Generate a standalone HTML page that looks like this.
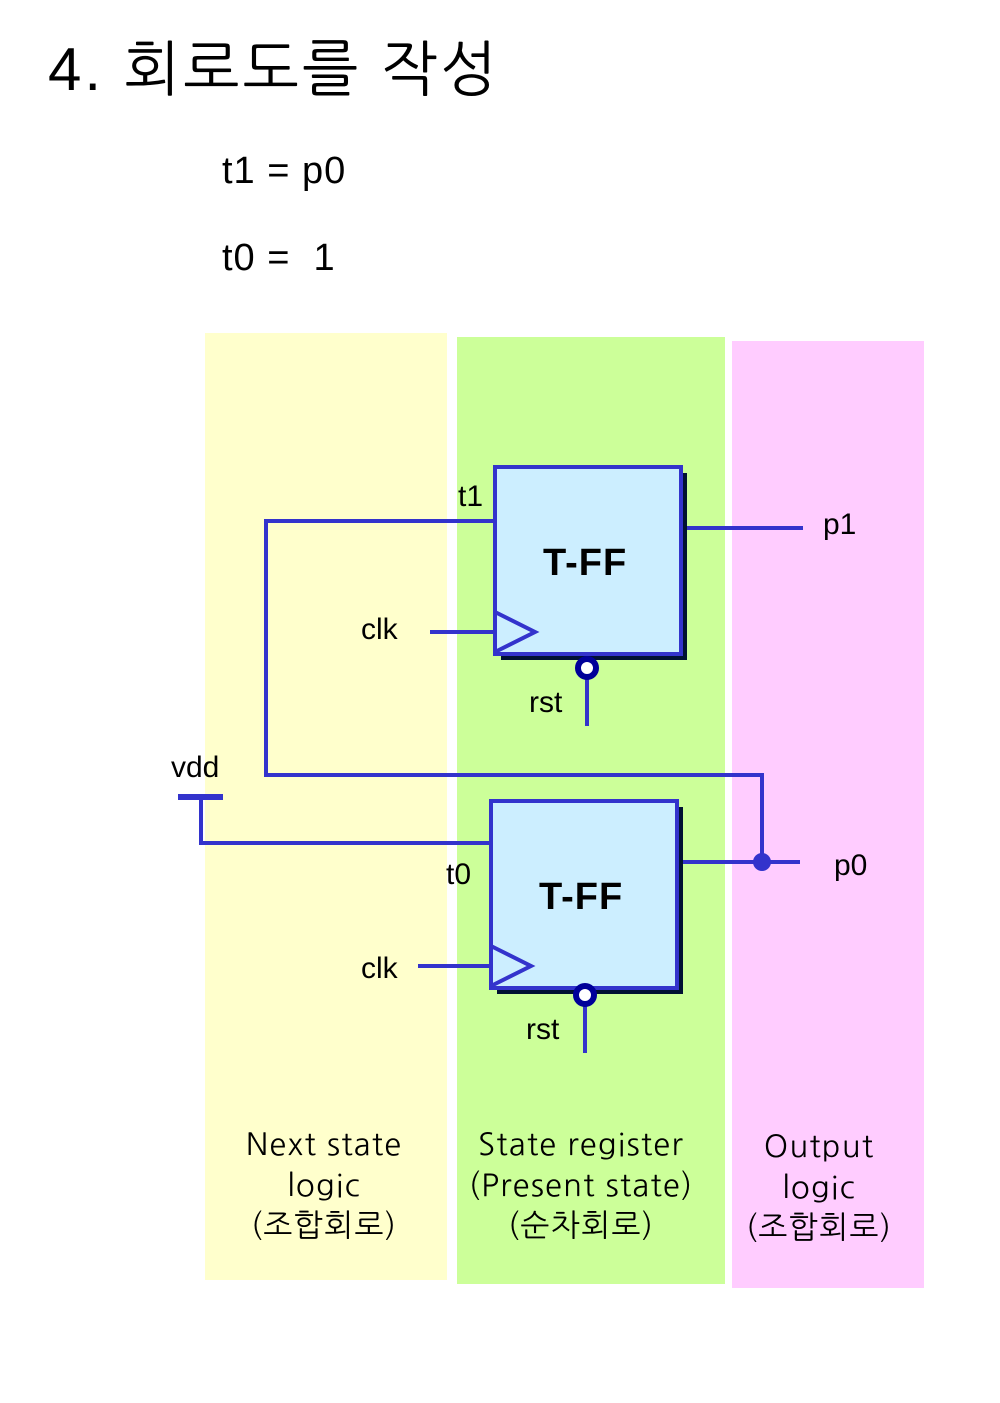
<!DOCTYPE html>
<html><head><meta charset="utf-8"><style>
html,body{margin:0;padding:0;background:#fff;}
svg{display:block;}
</style></head><body>
<svg width="1000" height="1403" xmlns="http://www.w3.org/2000/svg" font-family="Liberation Sans, Noto Sans CJK KR, sans-serif">
<rect x="205" y="333" width="242" height="947" fill="#ffffcc"/>
<rect x="457" y="337" width="268" height="947" fill="#ccff99"/>
<rect x="732" y="341" width="192" height="947" fill="#ffccff"/>
<text x="48" y="90" font-size="60" fill="#000" letter-spacing="3" font-family="Liberation Sans, NanumGothic, Noto Sans CJK KR, sans-serif">4. 회로도를 작성</text>
<text x="222" y="183" font-size="38" fill="#000" letter-spacing="1">t1 = p0</text>
<text x="222" y="270" font-size="38" fill="#000" letter-spacing="1">t0 =&#160;&#160;1</text>
<g stroke="#3333cc" stroke-width="4" fill="none">
<polyline points="495,521 266,521 266,775 762,775 762,862"/>
<line x1="677" y1="862" x2="800" y2="862"/>
<line x1="681" y1="528" x2="803" y2="528"/>
<polyline points="201,797 201,843 491,843"/>
<line x1="178" y1="797" x2="223" y2="797" stroke-width="6"/>
<line x1="430" y1="632" x2="495" y2="632"/>
<line x1="418" y1="966" x2="491" y2="966"/>
<line x1="587" y1="677" x2="587" y2="726"/>
<line x1="585" y1="1004" x2="585" y2="1053"/>
</g>
<rect x="501" y="473" width="186" height="187" fill="#001133"/>
<rect x="495" y="467" width="186" height="187" fill="#cceeff" stroke="#3333cc" stroke-width="4"/>
<rect x="497" y="807" width="186" height="187" fill="#001133"/>
<rect x="491" y="801" width="186" height="187" fill="#cceeff" stroke="#3333cc" stroke-width="4"/>
<polyline points="495,612 535,632 495,652" fill="none" stroke="#3333cc" stroke-width="4"/>
<polyline points="491,946 531,966 491,986" fill="none" stroke="#3333cc" stroke-width="4"/>
<circle cx="587" cy="668" r="9" fill="#fff" stroke="#000099" stroke-width="6"/>
<circle cx="585" cy="995" r="9" fill="#fff" stroke="#000099" stroke-width="6"/>
<circle cx="762" cy="862" r="9" fill="#3333cc"/>
<g font-size="30" fill="#000">
<text x="543" y="575" font-weight="bold" font-size="38" letter-spacing="1">T-FF</text>
<text x="539" y="909" font-weight="bold" font-size="38" letter-spacing="1">T-FF</text>
<text x="458" y="506">t1</text>
<text x="446" y="884">t0</text>
<text x="361" y="639">clk</text>
<text x="361" y="978">clk</text>
<text x="529" y="712">rst</text>
<text x="526" y="1039">rst</text>
<text x="823" y="534">p1</text>
<text x="834" y="875">p0</text>
<text x="171" y="777">vdd</text>
</g>
<g font-size="31" fill="#000" text-anchor="middle" letter-spacing="1.2" font-family="NanumGothic, Noto Sans CJK KR, sans-serif">
<text x="324" y="1155">Next state</text>
<text x="324" y="1196">logic</text>
<text x="324" y="1236">(조합회로)</text>
<text x="581" y="1155">State register</text>
<text x="581" y="1196">(Present state)</text>
<text x="581" y="1236">(순차회로)</text>
<text x="819" y="1157">Output</text>
<text x="819" y="1198">logic</text>
<text x="819" y="1238">(조합회로)</text>
</g>
</svg>
</body></html>
